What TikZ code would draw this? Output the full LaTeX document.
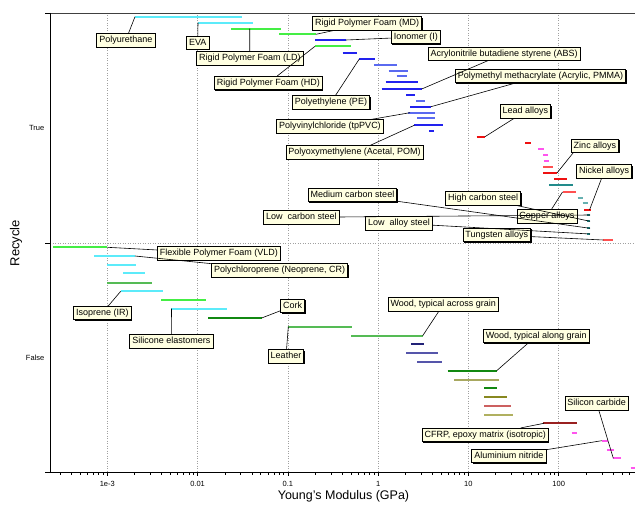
\documentclass[tikz,border=0pt]{standalone}
\usepackage{fontspec}
\setmainfont{Liberation Sans}
\usetikzlibrary{shadows}

\definecolor{tipfill}{HTML}{FFFFE1}
\definecolor{gridgray}{HTML}{A0A0A0}
\definecolor{axisgray}{HTML}{404040}
\definecolor{cyanbar}{HTML}{5CEBFA}
\definecolor{greenbar}{HTML}{44EE44}
\definecolor{greenmid}{HTML}{55BB55}
\definecolor{greendark}{HTML}{118811}
\definecolor{bluebar}{HTML}{2222EE}
\definecolor{bluelight}{HTML}{5A6AF0}
\definecolor{navybar}{HTML}{222277}
\definecolor{bluegray}{HTML}{5555AA}
\definecolor{olivebar}{HTML}{A8A860}
\definecolor{olivedark}{HTML}{888820}
\definecolor{rosybar}{HTML}{CC6060}
\definecolor{khakibar}{HTML}{B0B060}
\definecolor{darkredbar}{HTML}{992020}
\definecolor{redbar}{HTML}{EE1111}
\definecolor{redlight}{HTML}{FF5050}
\definecolor{magbar}{HTML}{FF55EE}
\definecolor{tealbar}{HTML}{228B8B}
\definecolor{teallight}{HTML}{66B0B0}

\tikzset{
  lbl/.style={draw=black, line width=0.6pt, fill=tipfill,
    font=\fontsize{9}{10}\selectfont, inner xsep=2.5pt, inner ysep=1pt,
    text height=7pt, text depth=2pt, minimum height=13.5pt,
    drop shadow={shadow xshift=1pt, shadow yshift=-1pt, opacity=1, fill=black}},
  lead/.style={draw=black, line width=0.6pt},
  databar/.style={line width=1.8pt},
  grid line/.style={gridgray, line width=0.5pt, dotted},
  ticklbl/.style={font=\fontsize{7.5}{8}\selectfont, inner sep=0pt},
}

% bar from x1 to x2 at height y
\newcommand{\modbar}[4]{\draw[databar,#1] (#2,#4) -- (#3,#4);}

\begin{document}
\begin{tikzpicture}[x=1pt,y=-1pt]
\useasboundingbox (0,0) rectangle (635,505);

% ---------- grid ----------
\foreach \gx in {107.3,197.6,287.9,378.1,468.4,558.7}
  \draw[grid line] (\gx,13) -- (\gx,472);
\draw[grid line] (50,243) -- (635,243);

% ---------- axes ----------
\draw[axisgray, line width=0.6pt] (45,13) -- (635,13);
\draw[black, line width=0.8pt] (50,13) -- (50,472);
\draw[black, line width=0.8pt] (45,472) -- (635,472);
\foreach \ty in {13,243,472} \draw[black, line width=0.6pt] (45,\ty) -- (50,\ty);
% decade ticks
\foreach \gx in {107.3,197.6,287.9,378.1,468.4,558.7}
  \draw[black, line width=0.6pt] (\gx,472) -- (\gx,476);
% minor ticks
\foreach \d in {-4,...,2}{
  \foreach \k in {2,...,9}{
    \pgfmathsetmacro{\mx}{107.3+90.28*(\d+3+log10(\k))}
    \pgfmathparse{(\mx>50)&&(\mx<635)?1:0}
    \ifnum\pgfmathresult=1
      \draw[black, line width=0.5pt] (\mx,472) -- (\mx,474.5);
    \fi
  }
}
\node[ticklbl] (t1) at (107.3,483.5) {1e-3};
\node[ticklbl] (t2) at (197.6,483.5) {0.01};
\node[ticklbl] (t3) at (287.9,483.5) {0.1};
\node[ticklbl] (t4) at (378.1,483.5) {1};
\node[ticklbl] (t5) at (468.4,483.5) {10};
\node[ticklbl] (t6) at (558.7,483.5) {100};
\node[font=\fontsize{12.5}{14}\selectfont, inner sep=0pt] (xt) at (343.5,496) {Young's Modulus (GPa)};
\node[font=\fontsize{13}{14}\selectfont, inner sep=0pt, rotate=90] (yt) at (16,243) {Recycle};
\node[font=\fontsize{7.5}{8}\selectfont, inner sep=0pt, anchor=east] (ytrue) at (44.5,128) {True};
\node[font=\fontsize{7.5}{8}\selectfont, inner sep=0pt, anchor=east] (yfalse) at (44.5,358) {False};

% ---------- recyclable materials ----------
\modbar{cyanbar}{135}{242}{16.7}
\modbar{cyanbar}{198}{253}{22.7}
\modbar{greenbar}{231}{280.7}{28.7}
\modbar{greenbar}{279}{316}{34.3}
\modbar{bluebar}{315}{346}{40}
\modbar{greenbar}{315}{350.7}{46.3}
\modbar{bluebar}{342.7}{356.7}{52.7}
\modbar{bluebar}{359.3}{375}{59}
\modbar{bluelight}{374}{397.3}{65}
\modbar{bluelight}{388.7}{408.3}{70.7}
\modbar{bluelight}{396.7}{407.3}{76.3}
\modbar{bluebar}{385.7}{417.7}{82}
\modbar{bluebar}{381.7}{421.7}{89}
\modbar{bluebar}{406}{415}{95}
\modbar{bluelight}{416}{425}{100.7}
\modbar{bluebar}{410}{431}{106.7}
\modbar{bluelight}{408.3}{435}{112.7}
\modbar{bluelight}{417.3}{435}{118.3}
\modbar{bluebar}{414.3}{443.3}{125.3}
\modbar{bluebar}{429.3}{434.3}{131.3}
% metals
\modbar{redbar}{476.7}{485}{136.7}
\modbar{redbar}{525}{531}{143.3}
\modbar{magbar}{538.3}{544}{149}
\modbar{magbar}{543.3}{548.3}{155.3}
\modbar{magbar}{544}{548.7}{161}
\modbar{redlight}{543.3}{553.3}{167.3}
\modbar{redbar}{543.3}{557.3}{173}
\modbar{redbar}{554.3}{566.7}{179}
\modbar{tealbar}{549.3}{573.3}{185}
\modbar{redlight}{562.7}{576}{192}
\modbar{teallight}{577.7}{583.3}{198.3}
\modbar{teallight}{582.7}{588.3}{203.3}
\modbar{redbar}{584.3}{590.7}{210}
\modbar{tealbar}{586.7}{590}{215}
\modbar{tealbar}{586.7}{590}{221.3}
\modbar{tealbar}{586.7}{590}{228.3}
\modbar{tealbar}{586.7}{590}{234}
\modbar{redlight}{603}{612.7}{240}

% ---------- non-recyclable materials ----------
\modbar{greenbar}{53.3}{107.3}{247.3}
\modbar{cyanbar}{94.3}{135}{256}
\modbar{cyanbar}{107.3}{136}{265.3}
\modbar{cyanbar}{123.3}{145.3}{273.3}
\modbar{greenmid}{107.3}{152}{282.7}
\modbar{cyanbar}{120.7}{163}{291.3}
\modbar{greenbar}{161.3}{206}{300.3}
\modbar{cyanbar}{171}{226.7}{308.7}
\modbar{greendark}{208}{261.7}{318}
\modbar{greenmid}{288.3}{352.3}{326.7}
\modbar{greenmid}{351}{422.7}{335.7}
\modbar{navybar}{411}{424}{344.3}
\modbar{bluegray}{406}{438.3}{353.3}
\modbar{bluegray}{417.3}{441.7}{362.3}
\modbar{greendark}{447.7}{496.7}{370.7}
\modbar{olivebar}{454}{499}{380}
\modbar{greendark}{484.3}{497.3}{388}
\modbar{olivedark}{484.3}{506.7}{397.3}
\modbar{rosybar}{484.3}{510.7}{406}
\modbar{khakibar}{484.3}{512.7}{415}
\modbar{darkredbar}{543.3}{576.7}{423.3}
\modbar{magbar}{571.7}{577.3}{432.7}
\modbar{magbar}{601.7}{608.3}{440.7}
\modbar{magbar}{607.3}{614}{450}
\modbar{magbar}{613.3}{620.7}{458.3}
\modbar{magbar}{630.7}{635}{467.7}

% ---------- leader anchor points on the bars ----------
\coordinate (pu) at (135,16.7);
\coordinate (eva) at (198,22.7);
\coordinate (ld) at (249.7,28.7);
\coordinate (md) at (316,34.3);
\coordinate (io) at (346,40);
\coordinate (hd) at (315,46.3);
\coordinate (pe) at (359.3,59);
\coordinate (abs) at (421.7,89);
\coordinate (pmma) at (431,106.7);
\coordinate (pvc) at (410,112.7);
\coordinate (pom) at (414.3,125.3);
\coordinate (pb) at (485,136.7);
\coordinate (zn) at (557,173);
\coordinate (cu) at (562.5,192);
\coordinate (ni) at (589.5,210);
\coordinate (lcs) at (590,215);
\coordinate (hcs) at (590,221.3);
\coordinate (mcs) at (590,228.3);
\coordinate (las) at (590,234);
\coordinate (w) at (603.3,240);
\coordinate (vld) at (107.3,247.3);
\coordinate (cr) at (135,256);
\coordinate (ir) at (120.7,291.3);
\coordinate (si) at (171.5,308.7);
\coordinate (ck) at (261.7,318);
\coordinate (lt) at (288.3,326.7);
\coordinate (wa) at (422.7,335.7);
\coordinate (wl) at (496.7,370.7);
\coordinate (cf) at (544,423.3);
\coordinate (aln) at (601.7,440.7);
\coordinate (sic) at (613.3,458.3);

% ---------- labels ----------
\node[lbl] (Lpu) at (125.8,40.2) {Polyurethane};
\node[lbl] (Leva) at (197.7,42.7) {EVA};
\node[lbl] (Lld) at (249.8,58.2) {Rigid Polymer Foam (LD)};
\node[lbl] (Lmd) at (367.2,23.3) {Rigid Polymer Foam (MD)};
\node[lbl] (Lio) at (415.8,37) {Ionomer (I)};
\node[lbl] (Lhd) at (268.3,83) {Rigid Polymer Foam (HD)};
\node[lbl] (Lpe) at (331,102.3) {Polyethylene (PE)};
\node[lbl] (Labs) at (504.2,53.7) {Acrylonitrile butadiene styrene (ABS)};
\node[lbl] (Lpmma) at (540.5,76) {Polymethyl methacrylate (Acrylic, PMMA)};
\node[lbl] (Lpvc) at (330,126.5) {Polyvinylchloride (tpPVC)};
\node[lbl] (Lpom) at (354.5,152.5) {Polyoxymethylene (Acetal, POM)};
\node[lbl] (Lpb) at (525.3,111.3) {Lead alloys};
\node[lbl] (Lzn) at (595,145.7) {Zinc alloys};
\node[lbl] (Lni) at (604.2,171.5) {Nickel alloys};
\node[lbl] (Lmcs) at (352.5,195) {Medium carbon steel};
\node[lbl] (Lhcs) at (483.2,198.3) {High carbon steel};
\node[lbl] (Llcs) at (301.3,217.3) {Low~~carbon steel};
\node[lbl] (Lcu) at (547,216.4) {Copper alloys};
\node[lbl] (Llas) at (399,223.3) {Low~~alloy steel};
\node[lbl] (Lw) at (496.7,235) {Tungsten alloys};
\node[lbl] (Lvld) at (218.8,253.3) {Flexible Polymer Foam (VLD)};
\node[lbl] (Lcr) at (279.7,270.5) {Polychloroprene (Neoprene, CR)};
\node[lbl] (Lir) at (102.3,313) {Isoprene (IR)};
\node[lbl] (Lsi) at (171.3,341.3) {Silicone elastomers};
\node[lbl] (Lck) at (292.7,306) {Cork};
\node[lbl] (Llt) at (286,356.3) {Leather};
\node[lbl] (Lwa) at (443.3,304.5) {Wood, typical across grain};
\node[lbl] (Lwl) at (536.2,336) {Wood, typical along grain};
\node[lbl] (Lcf) at (485.2,435) {CFRP, epoxy matrix (isotropic)};
\node[lbl] (Lsic) at (596.7,403.3) {Silicon carbide};
\node[lbl] (Laln) at (508.8,455.8) {Aluminium nitride};

% ---------- leaders ----------
\draw[lead] (pu) -- (Lpu);
\draw[lead] (eva) -- (Leva);
\draw[lead] (ld) -- (Lld);
\draw[lead] (md) -- (Lmd);
\draw[lead] (io) -- (Lio);
\draw[lead] (hd) -- (Lhd);
\draw[lead] (pe) -- (Lpe);
\draw[lead] (abs) -- (Labs);
\draw[lead] (pmma) -- (Lpmma);
\draw[lead] (pvc) -- (Lpvc);
\draw[lead] (pom) -- (Lpom);
\draw[lead] (pb) -- (Lpb);
\draw[lead] (zn) -- ([xshift=2.3pt]Lzn.south west);
\draw[lead] (cu) -- (Lcu);
\draw[lead] (ni) -- (Lni);
\draw[lead] (lcs) -- (Llcs);
\draw[lead] (hcs) -- (Lhcs);
\draw[lead] (mcs) -- (Lmcs);
\draw[lead] (las) -- (Llas);
\draw[lead] (w) -- (Lw);
\draw[lead] (vld) -- (Lvld);
\draw[lead] (cr) -- (Lcr);
\draw[lead] (ir) -- (Lir);
\draw[lead] (si) -- (Lsi);
\draw[lead] (ck) -- (Lck);
\draw[lead] (lt) -- (Llt);
\draw[lead] (wa) -- (Lwa);
\draw[lead] (wl) -- (Lwl);
\draw[lead] (cf) -- (Lcf);
\draw[lead] (aln) -- (Laln);
\draw[lead] (sic) -- (Lsic);
\end{tikzpicture}
\end{document}
